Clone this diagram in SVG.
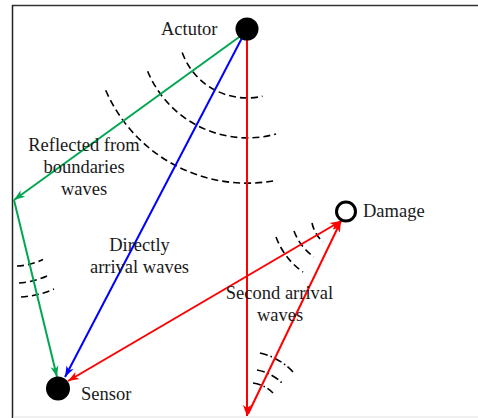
<svg xmlns="http://www.w3.org/2000/svg" width="478" height="418" viewBox="0 0 478 418">
<style>
  .lbl { font-family: "Liberation Serif", "Times New Roman", serif; font-size: 18.5px; fill: #1a1a1a; }
  .mid { text-anchor: middle; }
  .wave { fill: none; stroke: #000; stroke-width: 1.6; stroke-dasharray: 7 4; }
  .wave2 { fill: none; stroke: #000; stroke-width: 1.6; stroke-dasharray: 8 3 1.5 3; }
  .g { stroke: #00a651; stroke-width: 2; fill: none; }
  .b { stroke: #0000ff; stroke-width: 2; fill: none; }
  .r { stroke: #ff0000; stroke-width: 2; fill: none; }
</style>
<defs>
  <marker id="ag" markerUnits="userSpaceOnUse" markerWidth="12" markerHeight="10" refX="11" refY="4" orient="auto-start-reverse" viewBox="0 0 12 8">
    <path d="M0,0 L11,4 L0,8 L3,4 z" fill="#00a651"/>
  </marker>
  <marker id="ab" markerUnits="userSpaceOnUse" markerWidth="12" markerHeight="10" refX="11" refY="4" orient="auto-start-reverse" viewBox="0 0 12 8">
    <path d="M0,0 L11,4 L0,8 L3,4 z" fill="#0000ff"/>
  </marker>
  <marker id="ar" markerUnits="userSpaceOnUse" markerWidth="12" markerHeight="10" refX="11" refY="4" orient="auto-start-reverse" viewBox="0 0 12 8">
    <path d="M0,0 L11,4 L0,8 L3,4 z" fill="#ff0000"/>
  </marker>
</defs>
<rect width="478" height="418" fill="#fff"/>
<g id="frame">
  <line x1="12" y1="5.5" x2="478" y2="5.5" stroke="#333" stroke-width="1.5"/>
  <line x1="12.5" y1="5" x2="12.5" y2="418" stroke="#222" stroke-width="1.5"/>
  <line x1="13" y1="417" x2="478" y2="417" stroke="#e2e2e2" stroke-width="1"/>
</g>
<g id="waves">
  <path class="wave" d="M182.2,52.6 A69,69 0 0 0 262.5,96.2"/>
  <path class="wave" d="M147.6,71.2 A108,108 0 0 0 276,134"/>
  <path class="wave" d="M105.7,90.2 A154,154 0 0 0 277,180.2"/>
  <path class="wave" d="M17,266 A66,66 0 0 0 43,259.5"/>
  <path class="wave" d="M19,283 A83,83 0 0 0 49,275"/>
  <path class="wave" d="M21,297 A97,97 0 0 0 54,289"/>
  <path class="wave" d="M312,223 A36,36 0 0 0 323,242"/>
  <path class="wave" d="M294,231 A55,55 0 0 0 314,257"/>
  <path class="wave" d="M276,237 A74,74 0 0 0 303,272"/>
  <path class="wave2" d="M260,353 A64,64 0 0 1 293,372"/>
  <path class="wave2" d="M257,370 A47.5,47.5 0 0 1 282,383"/>
  <path class="wave2" d="M253,383 A34,34 0 0 1 273,393"/>
</g>
<g id="connectors">
  <line class="g" x1="242" y1="35" x2="14" y2="200" marker-end="url(#ag)"/>
  <line class="g" x1="14" y1="200" x2="57" y2="377" marker-end="url(#ag)"/>
  <line class="b" x1="243" y1="36" x2="65" y2="377" marker-end="url(#ab)"/>
  <line class="r" x1="247" y1="40" x2="247" y2="416" marker-end="url(#ar)"/>
  <line class="r" x1="248" y1="414" x2="341" y2="221" marker-end="url(#ar)"/>
  <line class="r" x1="341" y1="221" x2="68" y2="381" marker-start="url(#ar)" marker-end="url(#ar)"/>
</g>
<g id="actuator">
  <circle cx="247" cy="29" r="11.5" fill="#000"/>
  <text class="lbl" x="161" y="35">Actutor</text>
</g>
<g id="sensor">
  <circle cx="58" cy="388.5" r="12" fill="#000"/>
  <text class="lbl" x="81" y="400">Sensor</text>
</g>
<g id="damage">
  <circle cx="346" cy="211.5" r="9.5" fill="#fff" stroke="#000" stroke-width="3"/>
  <text class="lbl" x="363" y="217">Damage</text>
</g>
<g id="labels">
  <text class="lbl mid" x="84" y="151">Reflected from</text>
  <text class="lbl mid" x="84" y="173">boundaries</text>
  <text class="lbl mid" x="84" y="195">waves</text>
  <text class="lbl mid" x="139.5" y="251">Directly</text>
  <text class="lbl mid" x="139.5" y="273">arrival waves</text>
  <text class="lbl mid" x="279.5" y="299">Second arrival</text>
  <text class="lbl mid" x="280" y="321">waves</text>
</g>
</svg>
